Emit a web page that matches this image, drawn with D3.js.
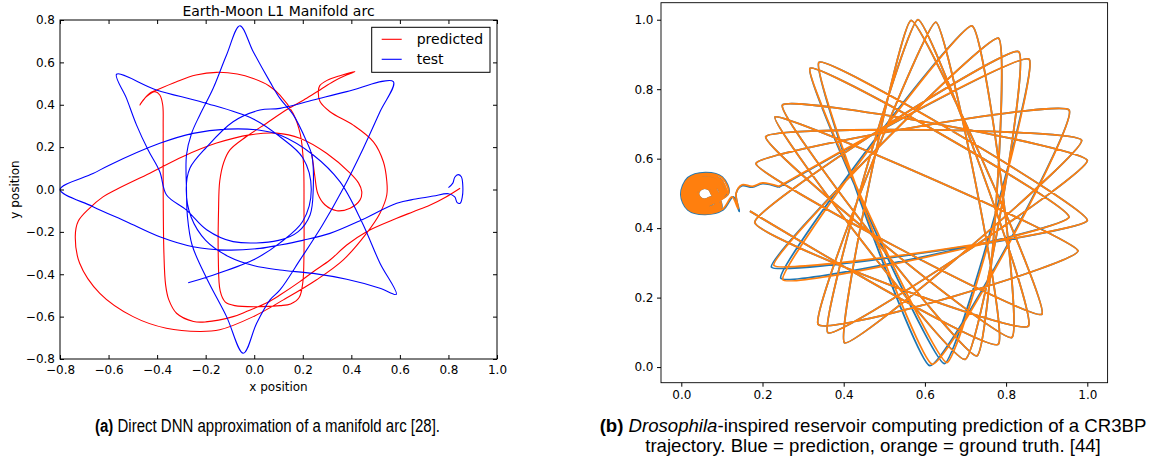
<!DOCTYPE html>
<html>
<head>
<meta charset="utf-8">
<script src="https://cdn.jsdelivr.net/npm/d3@7"></script>
<style>
  body { margin: 0; background: #fff; }
  svg { display: block; }
  .cap { font-family: "Liberation Sans", Arial, sans-serif; fill: #000; }
  .capn { font-family: "Liberation Sans Narrow", "Liberation Sans", Arial, sans-serif; fill: #000; }
</style>
</head>
<body>
<svg id="fig" width="1156" height="462"></svg>
<script>
// ---------------- Panel (a): Earth-Moon L1 manifold arc ----------------
const aXTicks = [-0.8, -0.6, -0.4, -0.2, 0.0, 0.2, 0.4, 0.6, 0.8, 1.0];
const aYTicks = [-0.8, -0.6, -0.4, -0.2, 0.0, 0.2, 0.4, 0.6, 0.8];
const aSeries = ["predicted", "test"];

// DNN-predicted arc, [x, y]
const predicted = [
  [0.848,0.006],[0.79,-0.035],[0.725,-0.073],[0.655,-0.105],[0.587,-0.136],[0.463,-0.199],[0.381,-0.262],
  [0.312,-0.333],[0.243,-0.388],[0.188,-0.435],[0.106,-0.498],[0.05,-0.536],[-0.03,-0.575],[-0.087,-0.6],
  [-0.2,-0.625],[-0.25,-0.623],[-0.32,-0.584],[-0.352,-0.52],[-0.365,-0.45],[-0.372,-0.3],[-0.375,0.0],
  [-0.375,0.3],[-0.377,0.4],[-0.389,0.446],[-0.409,0.462],[-0.444,0.438],[-0.471,0.399],
  [-0.455,0.425],[-0.43,0.455],[-0.409,0.466],[-0.32,0.509],[-0.24,0.54],[-0.155,0.553],[-0.07,0.545],
  [-0.004,0.524],[0.06,0.49],[0.106,0.446],[0.16,0.36],[0.19,0.26],[0.203,0.12],[0.205,-0.1],[0.205,-0.3],
  [0.2,-0.44],[0.185,-0.51],[0.15,-0.54],[0.106,-0.548],[0.02,-0.553],[-0.08,-0.548],[-0.12,-0.53],
  [-0.14,-0.48],[-0.148,-0.32],[-0.147,-0.1],[-0.142,0.04],[-0.125,0.13],[-0.1,0.187],[-0.032,0.25],
  [0.051,0.313],[0.133,0.376],[0.216,0.431],[0.271,0.47],[0.326,0.51],[0.38,0.54],[0.415,0.556],
  [0.353,0.537],[0.3,0.515],[0.27,0.49],[0.264,0.462],[0.271,0.415],[0.312,0.367],[0.408,0.304],
  [0.491,0.225],[0.532,0.131],[0.546,0.04],[0.546,-0.026],[0.518,-0.112],[0.463,-0.206],[0.367,-0.332],
  [0.257,-0.426],[0.12,-0.521],[-0.004,-0.6],[-0.142,-0.662],[-0.224,-0.67],[-0.362,-0.655],[-0.499,-0.6],
  [-0.636,-0.49],[-0.719,-0.348],[-0.737,-0.22],[-0.725,-0.15],[-0.68,-0.09],[-0.623,-0.035],[-0.568,0.0],
  [-0.43,0.077],[-0.293,0.156],[-0.155,0.219],[-0.018,0.258],[0.092,0.266],[0.188,0.242],[0.298,0.171],
  [0.395,0.077],[0.43,0.03],[0.443,-0.01],[0.436,-0.049],[0.395,-0.088],[0.34,-0.1],[0.291,-0.072],
  [0.262,-0.02],[0.25,0.06],[0.243,0.12],[0.236,0.175]
];

// Reference (test) arc, [x, y]
const test = [
  [0.80,0.009],[0.818,0.03],[0.826,0.058],[0.84,0.07],[0.853,0.06],[0.859,0.02],[0.857,-0.035],
  [0.848,-0.065],[0.836,-0.062],[0.826,-0.035],[0.80,-0.02],[0.738,-0.031],[0.665,-0.045],[0.587,-0.065],
  [0.436,-0.147],[0.312,-0.207],[0.2,-0.24],[0.106,-0.262],[0.0235,-0.278],[-0.114,-0.286],[-0.252,-0.27],
  [-0.389,-0.223],[-0.526,-0.152],[-0.664,-0.081],[-0.80,0.0],
  [-0.664,0.075],[-0.595,0.116],[-0.389,0.218],[-0.252,0.265],[-0.114,0.285],[0.0235,0.28],[0.106,0.257],
  [0.243,0.163],[0.353,0.037],[0.443,-0.152],[0.518,-0.348],[0.585,-0.495],
  [0.518,-0.466],[0.381,-0.424],[0.243,-0.396],[0.106,-0.38],[0.0,-0.36],[-0.1,-0.32],[-0.2,-0.24],
  [-0.26,-0.13],[-0.28,0.0],[-0.265,0.1],[-0.196,0.2],[-0.087,0.32],[0.0235,0.375],[0.106,0.383],
  [0.243,0.422],[0.381,0.462],[0.573,0.509],
  [0.518,0.367],[0.449,0.194],[0.367,0.006],[0.28,-0.17],[0.19,-0.33],[0.106,-0.474],[0.065,-0.521],
  [0.01,-0.631],[-0.045,-0.773],
  [-0.114,-0.6],[-0.196,-0.419],[-0.256,-0.262],[-0.275,-0.128],[-0.279,0.0],[-0.279,0.163],[-0.258,0.265],
  [-0.224,0.352],[-0.169,0.478],[-0.114,0.635],[-0.059,0.773],
  [-0.004,0.65],[0.065,0.508],[0.106,0.43],[0.161,0.352],[0.216,0.226],[0.237,0.163],[0.243,0.0],
  [0.23,-0.12],[0.18,-0.2],[0.1,-0.24],[-0.087,-0.246],[-0.196,-0.19],[-0.279,-0.097],[-0.361,-0.026],
  [-0.389,0.084],[-0.437,0.186],[-0.485,0.305],[-0.526,0.43],[-0.567,0.544],
  [-0.403,0.47],[-0.21,0.411],[-0.004,0.333],[0.106,0.249],[0.2,0.15],[0.235,0.0],[0.2,-0.15],
  [0.106,-0.252],[-0.005,-0.333],[-0.196,-0.414],[-0.272,-0.44]
];

// ---------------- Panel (b): CR3BP trajectory, reservoir computing ----------------
const bTicks = [0.0, 0.2, 0.4, 0.6, 0.8, 1.0];

// Ground truth: tight winding near (0.06, 0.5), then the exit leg
const truthOrbit = [
  [0.114,0.499],[0.098,0.539],[0.058,0.555],[0.018,0.539],[0.002,0.499],[0.018,0.459],[0.058,0.443],[0.098,0.459],
  [0.090,0.499],[0.081,0.522],[0.058,0.531],[0.035,0.522],[0.026,0.499],[0.035,0.476],[0.058,0.467],[0.081,0.476],
  [0.110,0.501],[0.095,0.537],[0.059,0.552],[0.022,0.536],[0.006,0.500],[0.021,0.463],[0.057,0.447],[0.095,0.462],
  [0.078,0.500],[0.072,0.514],[0.058,0.519],[0.044,0.513],[0.038,0.499],[0.044,0.485],[0.058,0.479],[0.072,0.485],
  [0.106,0.498],[0.092,0.533],[0.058,0.547],[0.024,0.533],[0.010,0.499],[0.024,0.465],[0.058,0.451],[0.092,0.465],
  [0.086,0.500],[0.078,0.519],[0.058,0.527],[0.038,0.519],[0.030,0.499],[0.038,0.479],[0.058,0.471],[0.078,0.480],
  [0.102,0.500],[0.089,0.530],[0.057,0.543],[0.027,0.530],[0.014,0.498],[0.027,0.468],[0.059,0.455],[0.089,0.468],
  [0.074,0.499],[0.069,0.510],[0.058,0.515],[0.047,0.510],[0.042,0.499],[0.047,0.488],[0.058,0.483],[0.069,0.488],
  [0.098,0.499],[0.086,0.527],[0.058,0.539],[0.030,0.527],[0.018,0.499],[0.030,0.471],[0.058,0.459],[0.086,0.471],
  [0.082,0.499],[0.075,0.516],[0.058,0.523],[0.041,0.516],[0.034,0.499],[0.041,0.482],[0.058,0.475],[0.075,0.482],
  [0.094,0.501],[0.083,0.525],[0.057,0.535],[0.032,0.524],[0.022,0.499],[0.033,0.474],[0.059,0.463],[0.083,0.474],
  [0.116,0.500],[0.100,0.545],[0.060,0.557],[0.018,0.543],[0.001,0.498],[0.017,0.455],[0.058,0.442],[0.102,0.455],
  [0.125,0.49],[0.14,0.456],[0.135,0.50],[0.15,0.525],[0.175,0.52],[0.2,0.53],[0.24,0.52]
];
// Ground truth: corner-to-corner legs of the outer motion
const truthStar = [
  [0.24,0.52],
  [0.857,0.886],[0.654,0.013],[0.317,0.86],[0.955,0.432],[0.25,0.252],[0.716,0.982],[0.814,0.085],
  [0.208,0.663],[0.986,0.653],[0.402,0.07],[0.566,0.998],[0.888,0.152],[0.184,0.586],[0.955,0.74],
  [0.618,0.008],[0.339,0.877],[1.0,0.422],[0.228,0.293],[0.781,0.947],[0.728,0.032],[0.249,0.754],
  [1.0,0.595],[0.361,0.099],[0.583,1.0],[0.855,0.118],[0.181,0.417],[0.831,0.908],[0.699,0.022],
  [0.231,0.72],[0.977,0.335],[0.337,0.123],[0.627,0.993],[0.781,0.066],[0.169,0.449]
];
// Reservoir prediction
const predOrbit = [
  [0.113,0.497],[0.097,0.541],[0.055,0.557],[0.015,0.540],[0.000,0.497],[0.016,0.456],[0.057,0.440],[0.099,0.456],
  [0.090,0.499],[0.081,0.522],[0.058,0.531],[0.035,0.522],[0.026,0.499],[0.035,0.476],[0.058,0.467],[0.081,0.476],
  [0.110,0.501],[0.095,0.537],[0.059,0.552],[0.022,0.536],[0.006,0.500],[0.021,0.463],[0.057,0.447],[0.095,0.462],
  [0.078,0.500],[0.072,0.514],[0.058,0.519],[0.044,0.513],[0.038,0.499],[0.044,0.485],[0.058,0.479],[0.072,0.485],
  [0.106,0.498],[0.092,0.533],[0.058,0.547],[0.024,0.533],[0.010,0.499],[0.024,0.465],[0.058,0.451],[0.092,0.465],
  [0.086,0.500],[0.078,0.519],[0.058,0.527],[0.038,0.519],[0.030,0.499],[0.038,0.479],[0.058,0.471],[0.078,0.480],
  [0.102,0.500],[0.089,0.530],[0.057,0.543],[0.027,0.530],[0.014,0.498],[0.027,0.468],[0.059,0.455],[0.089,0.468],
  [0.074,0.499],[0.069,0.510],[0.058,0.515],[0.047,0.510],[0.042,0.499],[0.047,0.488],[0.058,0.483],[0.069,0.488],
  [0.098,0.499],[0.086,0.527],[0.058,0.539],[0.030,0.527],[0.018,0.499],[0.030,0.471],[0.058,0.459],[0.086,0.471],
  [0.082,0.499],[0.075,0.516],[0.058,0.523],[0.041,0.516],[0.034,0.499],[0.041,0.482],[0.058,0.475],[0.075,0.482],
  [0.094,0.501],[0.083,0.525],[0.057,0.535],[0.032,0.524],[0.022,0.499],[0.033,0.474],[0.059,0.463],[0.083,0.474],
  [0.117,0.502],[0.101,0.547],[0.059,0.560],[0.016,0.545],[-0.001,0.497],[0.016,0.453],[0.058,0.440],[0.103,0.453],
  [0.128,0.49],[0.143,0.448],[0.135,0.50],[0.15,0.522],[0.175,0.518],[0.2,0.528],[0.24,0.518]
];
const predStar = [
  [0.24,0.518],
  [0.857,0.886],[0.648,0.010],[0.317,0.86],[0.955,0.432],[0.245,0.256],[0.716,0.982],[0.814,0.085],
  [0.208,0.663],[0.986,0.653],[0.402,0.07],[0.566,0.998],[0.888,0.152],[0.184,0.586],[0.955,0.74],
  [0.612,0.004],[0.339,0.877],[1.0,0.422],[0.222,0.288],[0.781,0.947],[0.728,0.032],[0.249,0.754],
  [1.0,0.595],[0.361,0.099],[0.583,1.0],[0.855,0.118],[0.181,0.417],[0.831,0.908],[0.699,0.022],
  [0.231,0.72],[0.977,0.335],[0.337,0.123],[0.627,0.993],[0.781,0.066],[0.169,0.449]
];

const svg = d3.select("#fig");
const fmt = d3.format(".1f");

function styleAxis(g, size) {
  g.attr("font-family", "'DejaVu Sans', sans-serif").attr("font-size", size);
  g.selectAll("text").attr("fill", "#000");
  g.selectAll("line").attr("stroke", "#000");
  g.select(".domain").remove();
}

// ----- Panel (a) -----
const ax = d3.scaleLinear().domain([-0.8, 1.0]).range([60, 497]);
const ay = d3.scaleLinear().domain([-0.8, 0.8]).range([359, 20]);
const gA = svg.append("g");
const lineA = d3.line().x(d => ax(d[0])).y(d => ay(d[1])).curve(d3.curveCatmullRom.alpha(0.5));

gA.append("path").datum(predicted).attr("d", lineA)
  .attr("fill", "none").attr("stroke", "#ff0000").attr("stroke-width", 1.1);
gA.append("path").datum(test).attr("d", lineA)
  .attr("fill", "none").attr("stroke", "#0000ff").attr("stroke-width", 1.1);

gA.append("rect").attr("x", 60).attr("y", 20).attr("width", 437).attr("height", 339)
  .attr("fill", "none").attr("stroke", "#000").attr("stroke-width", 1);

gA.append("g").attr("transform", "translate(0,359)")
  .call(d3.axisBottom(ax).tickValues(aXTicks).tickFormat(fmt).tickSizeInner(-4).tickSizeOuter(0).tickPadding(6))
  .call(g => styleAxis(g, 12));
gA.append("g").attr("transform", "translate(0,20)")
  .call(d3.axisTop(ax).tickValues(aXTicks).tickFormat("").tickSizeInner(-4).tickSizeOuter(0))
  .call(g => styleAxis(g, 12));
gA.append("g").attr("transform", "translate(60,0)")
  .call(d3.axisLeft(ay).tickValues(aYTicks).tickFormat(fmt).tickSizeInner(-4).tickSizeOuter(0).tickPadding(5))
  .call(g => styleAxis(g, 12));
gA.append("g").attr("transform", "translate(497,0)")
  .call(d3.axisRight(ay).tickValues(aYTicks).tickFormat("").tickSizeInner(-4).tickSizeOuter(0))
  .call(g => styleAxis(g, 12));

gA.append("text").attr("x", 278.5).attr("y", 16).attr("text-anchor", "middle")
  .attr("font-family", "'DejaVu Sans', sans-serif").attr("font-size", 14).text("Earth-Moon L1 Manifold arc");
gA.append("text").attr("x", 278.5).attr("y", 391).attr("text-anchor", "middle")
  .attr("font-family", "'DejaVu Sans', sans-serif").attr("font-size", 12).text("x position");
gA.append("text").attr("transform", "translate(19,189.5) rotate(-90)").attr("text-anchor", "middle")
  .attr("font-family", "'DejaVu Sans', sans-serif").attr("font-size", 12).text("y position");

// legend
const leg = gA.append("g");
leg.append("rect").attr("x", 371.7).attr("y", 27.3).attr("width", 118.3).attr("height", 45)
  .attr("fill", "#fff").attr("stroke", "#000").attr("stroke-width", 1);
const legColors = ["#ff0000", "#0000ff"];
aSeries.forEach((name, i) => {
  const yy = 39.3 + i * 20;
  leg.append("line").attr("x1", 381.7).attr("x2", 401.7).attr("y1", yy).attr("y2", yy)
    .attr("stroke", legColors[i]).attr("stroke-width", 1.1);
  leg.append("text").attr("x", 416.7).attr("y", yy + 5)
    .attr("font-family", "'DejaVu Sans', sans-serif").attr("font-size", 14).text(name);
});

// ----- Panel (b) -----
const bx = d3.scaleLinear().domain([-0.05, 1.05]).range([661, 1107.6]);
const by = d3.scaleLinear().domain([-0.045, 1.049]).range([382.7, 2.7]);
const gB = svg.append("g");
const orbitLine = d3.line().x(d => bx(d[0])).y(d => by(d[1])).curve(d3.curveCatmullRom.alpha(0.5));
const legLine = d3.line().x(d => bx(d[0])).y(d => by(d[1])).curve(d3.curveCardinal.tension(0.66));

function drawRun(orbit, star, color) {
  gB.append("path").datum(orbit).attr("d", orbitLine)
    .attr("fill", "none").attr("stroke", color).attr("stroke-width", 1.8).attr("stroke-linejoin", "round");
  gB.append("path").datum(star).attr("d", legLine)
    .attr("fill", "none").attr("stroke", color).attr("stroke-width", 1.8).attr("stroke-linejoin", "round");
}
drawRun(predOrbit, predStar, "#1f77b4");
drawRun(truthOrbit, truthStar, "#ff7f0e");

gB.append("rect").attr("x", 661).attr("y", 2.7).attr("width", 446.6).attr("height", 380)
  .attr("fill", "none").attr("stroke", "#000").attr("stroke-width", 0.9);
gB.append("g").attr("transform", "translate(0,382.7)")
  .call(d3.axisBottom(bx).tickValues(bTicks).tickFormat(fmt).tickSizeInner(4).tickSizeOuter(0).tickPadding(3.5))
  .call(g => styleAxis(g, 12));
gB.append("g").attr("transform", "translate(661,0)")
  .call(d3.axisLeft(by).tickValues(bTicks).tickFormat(fmt).tickSizeInner(4).tickSizeOuter(0).tickPadding(3.5))
  .call(g => styleAxis(g, 12));

// ----- Captions -----
svg.append("text").attr("class", "capn").attr("font-size", 17.5).attr("font-weight", "bold")
  .attr("x", 95).attr("y", 432)
  .attr("textLength", 18.3).attr("lengthAdjust", "spacingAndGlyphs").text("(a)");
svg.append("text").attr("class", "capn").attr("font-size", 17.5)
  .attr("x", 117.5).attr("y", 432)
  .attr("textLength", 322.5).attr("lengthAdjust", "spacingAndGlyphs")
  .text("Direct DNN approximation of a manifold arc [28].");

const capB1 = svg.append("text").attr("class", "cap").attr("font-size", 18.6)
  .attr("x", 873).attr("y", 432).attr("text-anchor", "middle");
capB1.append("tspan").attr("font-weight", "bold").text("(b)");
capB1.append("tspan").text(" ");
capB1.append("tspan").attr("font-style", "italic").text("Drosophila");
capB1.append("tspan").text("-inspired reservoir computing prediction of a CR3BP");
svg.append("text").attr("class", "cap").attr("font-size", 18.6)
  .attr("x", 873).attr("y", 452).attr("text-anchor", "middle")
  .text("trajectory. Blue = prediction, orange = ground truth. [44]");
</script>
</body>
</html>
